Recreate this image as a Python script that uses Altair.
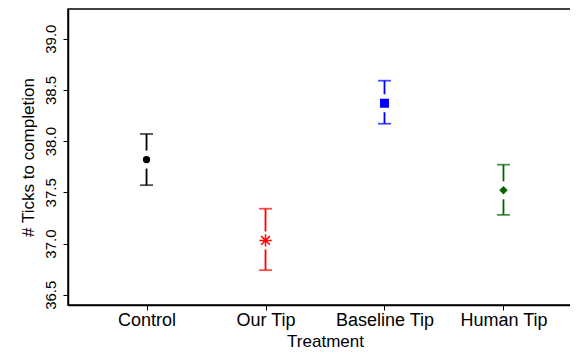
import altair as alt
import pandas as pd

treatments = ["Control", "Our Tip", "Baseline Tip", "Human Tip"]
positions = [1, 2, 3, 4]
means = [37.82, 37.03, 38.37, 37.52]
lower = [37.57, 36.74, 38.17, 37.28]
upper = [38.07, 37.34, 38.59, 37.77]
y_ticks = [36.5, 37.0, 37.5, 38.0, 38.5, 39.0]

colors = ["#000000", "#ff0000", "#0000ff", "#006400"]
asterisk = "M0,-1L0,1M-1,0L1,0M-0.71,-0.71L0.71,0.71M-0.71,0.71L0.71,-0.71"
shapes = ["circle", asterisk, "square", "diamond"]
marker_sizes = [34, 150, 56, 40]
marker_filled = [True, False, True, True]

df = pd.DataFrame({
    "pos": positions,
    "treatment": treatments,
    "mean": means,
    "lower": lower,
    "upper": upper,
})

FONT = "Liberation Sans"
label_expr = "[" + ",".join("'" + t + "'" for t in treatments) + "][datum.value - 1]"

x_enc = alt.X(
    "pos:Q",
    scale=alt.Scale(domain=[0.34, 4.66], nice=False, zero=False),
    axis=alt.Axis(
        values=positions, labelExpr=label_expr, title="Treatment",
        labelAngle=0, labelFontSize=18, labelPadding=1, tickSize=5,
        titleFontSize=17, titlePadding=4, labelFlush=False, labelOverlap=False,
    ),
)

y_scale = alt.Scale(domain=[36.4, 39.29], nice=False, zero=False)
y_axis = alt.Axis(
    values=y_ticks, format=".1f", title="# Ticks to completion",
    labelAngle=270, labelAlign="center", labelBaseline="bottom",
    labelPadding=5, labelFontSize=15, tickSize=5,
    titleFontSize=17, titleAngle=270, titleBaseline="bottom", titlePadding=6,
    labelOverlap=False,
)

color_enc = alt.Color("treatment:N", scale=alt.Scale(domain=treatments, range=colors), legend=None)

base = alt.Chart(df)

rules = base.mark_rule(strokeWidth=1.8).encode(
    x=x_enc,
    y=alt.Y("lower:Q", scale=y_scale, axis=y_axis),
    y2="upper:Q",
    color=color_enc,
)

caps_low = base.mark_tick(orient="horizontal", size=13, thickness=1.8).encode(
    x=x_enc, y=alt.Y("lower:Q", scale=y_scale, axis=y_axis), color=color_enc,
)
caps_up = base.mark_tick(orient="horizontal", size=13, thickness=1.8).encode(
    x=x_enc, y=alt.Y("upper:Q", scale=y_scale, axis=y_axis), color=color_enc,
)

mask = base.mark_point(
    shape="square", size=324, fill="white", stroke="white", strokeWidth=0, fillOpacity=1, opacity=1,
).encode(
    x=x_enc, y=alt.Y("mean:Q", scale=y_scale, axis=y_axis),
)

marker_layers = []
for name, col, shp, sz, fl in zip(treatments, colors, shapes, marker_sizes, marker_filled):
    props = dict(shape=shp, size=sz, stroke=col, strokeWidth=1.5, opacity=1, strokeOpacity=1)
    if fl:
        props.update(fill=col, fillOpacity=1)
    else:
        props.update(fillOpacity=0)
    marker_layers.append(
        base.transform_filter(alt.datum.treatment == name)
        .mark_point(**props)
        .encode(x=x_enc, y=alt.Y("mean:Q", scale=y_scale, axis=y_axis))
    )

chart = alt.layer(rules, caps_low, caps_up, mask, *marker_layers).properties(
    width=514,
    height=296,
    padding={"left": 60, "right": -12, "top": 1, "bottom": 44},
    autosize=alt.AutoSizeParams(type="none"),
    background="white",
).configure_view(
    stroke="black", strokeWidth=1.5,
).configure_axis(
    grid=False, domainColor="black", domainWidth=1.5, tickColor="black", tickWidth=1,
    labelColor="black", titleColor="black", labelFont=FONT, titleFont=FONT,
    titleFontWeight="normal",
)

chart.save("out.html", embed_options={"renderer": "svg", "actions": False})
